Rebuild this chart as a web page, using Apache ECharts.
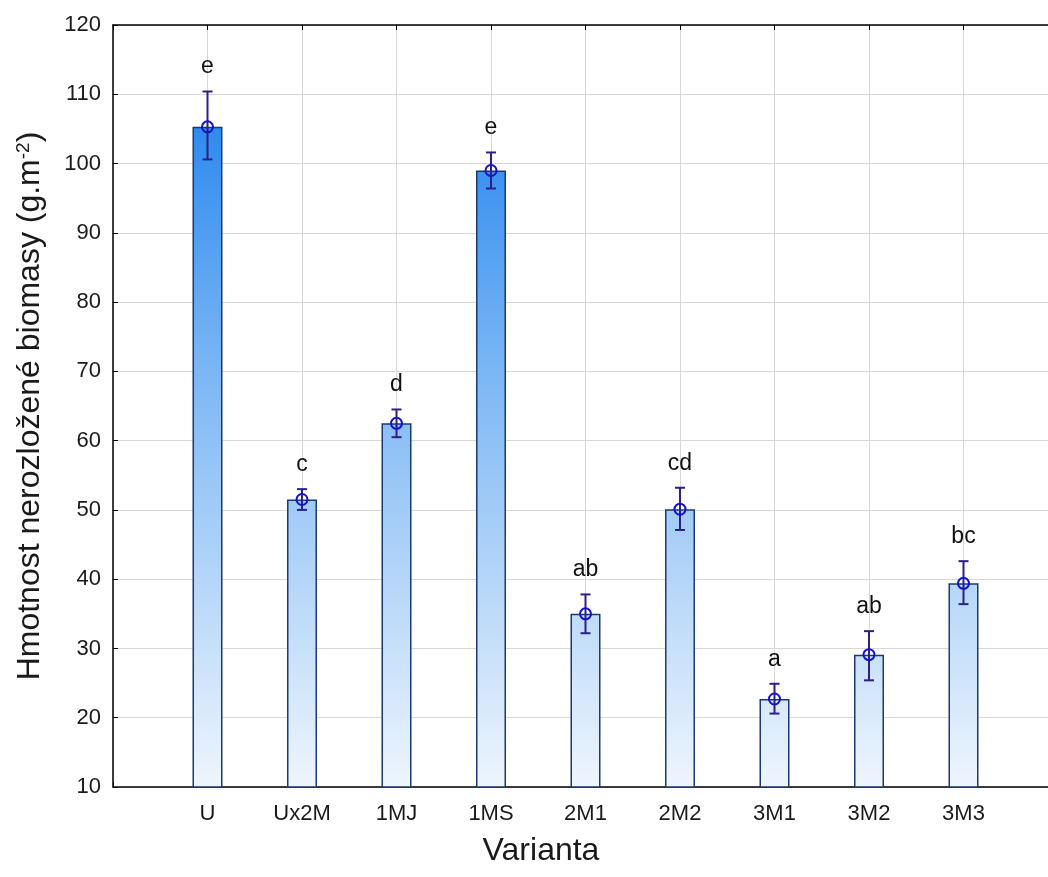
<!DOCTYPE html>
<html>
<head>
<meta charset="utf-8">
<script src="https://cdn.jsdelivr.net/npm/echarts@6/dist/echarts.min.js"></script>
<style>
html,body{margin:0;padding:0;background:#fff;}
#c{width:1048px;height:877px;}
</style>
</head>
<body>
<div id="c"></div>
<script>
const categories = ['U', 'Ux2M', '1MJ', '1MS', '2M1', '2M2', '3M1', '3M2', '3M3'];
const means = [105.3, 51.5, 62.5, 99.0, 35.0, 50.1, 22.7, 29.1, 39.4];
const errLow = [100.6, 50.0, 60.5, 96.4, 32.2, 47.1, 20.6, 25.4, 36.4];
const errHigh = [110.4, 53.0, 64.5, 101.6, 37.8, 53.2, 24.9, 32.5, 42.6];
const letters = ['e', 'c', 'd', 'e', 'ab', 'cd', 'a', 'ab', 'bc'];
const yTicks = {min: 10, max: 120, interval: 10};

const axisCats = [''].concat(categories, ['']);
const font = 'Liberation Sans, Arial, sans-serif';

const chart = echarts.init(document.getElementById('c'), null, {renderer: 'canvas'});
const grad = new echarts.graphic.LinearGradient(0, 25, 0, 787, [
  {offset: 0, color: '#0f78ee'},
  {offset: 0.45, color: '#7ab6f4'},
  {offset: 1, color: '#eef5fd'}
], true);

chart.setOption({
  backgroundColor: '#ffffff',
  animation: false,
  grid: {left: 113, top: 25, bottom: 90, right: -10, containLabel: false, outerBoundsMode: 'none'},
  xAxis: [{
    type: 'category',
    data: axisCats,
    boundaryGap: false,
    position: 'bottom',
    axisLine: {lineStyle: {color: '#000', width: 1.5}},
    axisTick: {inside: true, length: 5, lineStyle: {color: '#000'}},
    axisLabel: {fontSize: 22, color: '#1a1a1a', fontFamily: font, margin: 16, interval: 0},
    splitLine: {show: true, lineStyle: {color: '#d8d8d8', width: 1}},
    name: 'Varianta',
    nameLocation: 'middle',
    nameGap: 48,
    nameTextStyle: {fontSize: 32, color: '#1a1a1a', fontFamily: font, padding: [0, 89, 0, 0]}
  }, {
    type: 'category',
    data: axisCats,
    boundaryGap: false,
    position: 'top',
    axisLine: {lineStyle: {color: '#000', width: 1.5}},
    axisTick: {inside: true, length: 5, lineStyle: {color: '#000'}},
    axisLabel: {show: false},
    splitLine: {show: false}
  }],
  yAxis: {
    type: 'value',
    min: yTicks.min, max: yTicks.max, interval: yTicks.interval,
    axisLine: {show: true, lineStyle: {color: '#000', width: 1.5}},
    axisTick: {show: true, inside: true, length: 5, lineStyle: {color: '#000'}},
    axisLabel: {fontSize: 22, color: '#1a1a1a', fontFamily: font, margin: 12},
    splitLine: {show: true, lineStyle: {color: '#d8d8d8', width: 1}},
    name: '{a|Hmotnost nerozložené biomasy (g.m}{s|-2}{a|)}',
    nameLocation: 'middle',
    nameGap: 66,
    nameTextStyle: {
      rich: {
        a: {fontSize: 32, color: '#1a1a1a', fontFamily: font},
        s: {fontSize: 19, color: '#1a1a1a', fontFamily: font, verticalAlign: 'top', padding: [0, 0, 14, 0]}
      }
    }
  },
  series: [{
    type: 'bar',
    barWidth: 30,
    data: categories.map((c, i) => [i + 1, means[i]]),
    itemStyle: {color: grad, borderColor: '#1b3a6e', borderWidth: 1.5},
    z: 2
  }, {
    type: 'custom',
    z: 5,
    data: categories.map((c, i) => [i + 1, means[i], errLow[i], errHigh[i]]),
    renderItem: function (params, api) {
      const x = api.value(0);
      const m = api.coord([x, api.value(1)]);
      const lo = api.coord([x, api.value(2)]);
      const hi = api.coord([x, api.value(3)]);
      const cw = 5;
      const col = '#2d1f86';
      return {
        type: 'group',
        children: [
          {type: 'line', shape: {x1: hi[0], y1: hi[1], x2: lo[0], y2: lo[1]}, style: {stroke: col, lineWidth: 2}},
          {type: 'line', shape: {x1: hi[0] - cw, y1: hi[1], x2: hi[0] + cw, y2: hi[1]}, style: {stroke: col, lineWidth: 2}},
          {type: 'line', shape: {x1: lo[0] - cw, y1: lo[1], x2: lo[0] + cw, y2: lo[1]}, style: {stroke: col, lineWidth: 2}},
          {type: 'circle', shape: {cx: m[0], cy: m[1], r: 5.5}, style: {stroke: '#1212cc', lineWidth: 2, fill: 'rgba(0,0,0,0)'}}
        ]
      };
    }
  }, {
    type: 'scatter',
    symbolSize: 0,
    z: 6,
    itemStyle: {opacity: 1},
    data: categories.map((c, i) => [i + 1, errHigh[i]]),
    label: {
      show: true,
      position: 'top',
      distance: 13,
      fontSize: 23,
      color: '#111',
      opacity: 1,
      fontFamily: font,
      formatter: function (p) { return letters[p.dataIndex]; }
    },
    emphasis: {disabled: true}
  }]
});
</script>
</body>
</html>
